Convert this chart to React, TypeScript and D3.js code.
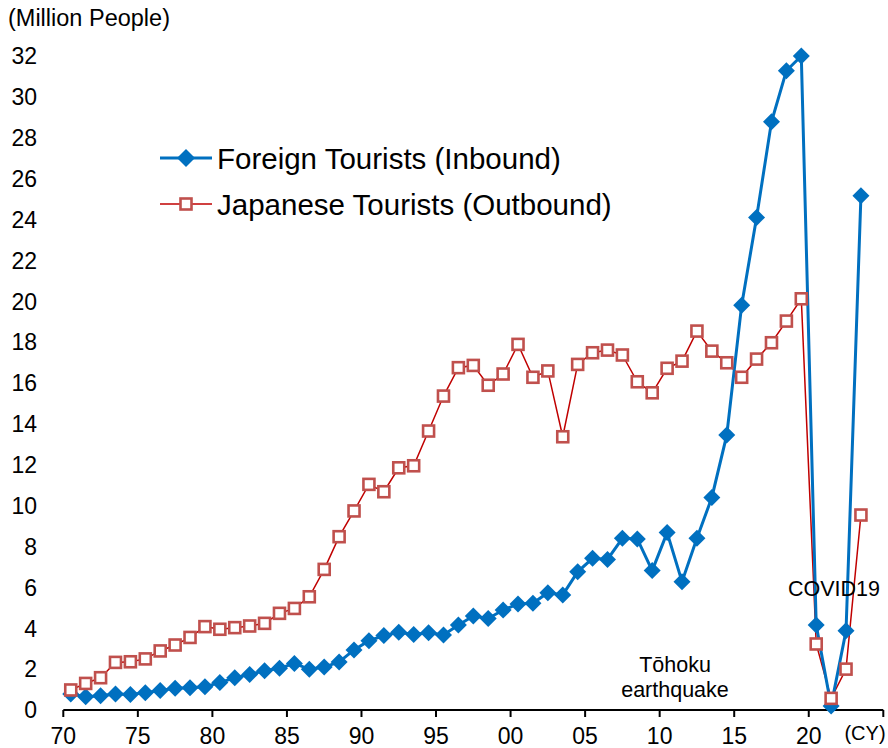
import React from "react";
import * as d3 from "d3";

const years: number[] = Array.from({ length: 54 }, (_, i) => 1970 + i);

const inbound: number[] = [
  0.78, 0.65, 0.70, 0.78, 0.76, 0.85, 0.95, 1.06, 1.09, 1.14,
  1.34, 1.58, 1.74, 1.92, 2.04, 2.28, 1.99, 2.10, 2.35, 2.94,
  3.39, 3.64, 3.80, 3.70, 3.78, 3.67, 4.16, 4.60, 4.48, 4.89,
  5.19, 5.22, 5.74, 5.63, 6.76, 7.42, 7.37, 8.40, 8.37, 6.82,
  8.68, 6.28, 8.40, 10.40, 13.45, 19.81, 24.10, 28.78, 31.28, 32.0,
  4.16, 0.20, 3.88, 25.16,
];

const outbound: number[] = [
  0.98, 1.30, 1.58, 2.33, 2.36, 2.50, 2.89, 3.18, 3.55, 4.08,
  3.95, 4.03, 4.11, 4.24, 4.73, 4.97, 5.54, 6.88, 8.48, 9.74,
  11.04, 10.68, 11.85, 11.95, 13.65, 15.36, 16.75, 16.86, 15.89, 16.44,
  17.89, 16.28, 16.59, 13.37, 16.91, 17.48, 17.61, 17.37, 16.06, 15.52,
  16.72, 17.07, 18.54, 17.56, 16.99, 16.28, 17.17, 17.97, 19.03, 20.12,
  3.23, 0.57, 2.00, 9.54,
];

const yTicks: number[] = [0, 2, 4, 6, 8, 10, 12, 14, 16, 18, 20, 22, 24, 26, 28, 30, 32];
const xTicks: number[] = [1970, 1975, 1980, 1985, 1990, 1995, 2000, 2005, 2010, 2015, 2020, 2025];
const xTickLabels: string[] = ["70", "75", "80", "85", "90", "95", "00", "05", "10", "15", "20", ""];
const seriesNames: string[] = ["Foreign Tourists (Inbound)", "Japanese Tourists (Outbound)"];

const FONT = "'Liberation Sans', Arial, sans-serif";
const BLUE = "#0070C0";
const RED_LINE = "#C00000";
const RED_MARK = "#C0504D";

export default function App() {
  const W = 888;
  const H = 748;
  const x = d3.scaleLinear().domain([1970, 2025]).range([63.3, 883.3]);
  const y = d3.scaleLinear().domain([0, 32]).range([710, 56]);

  const line = d3
    .line<number>()
    .x((_, i) => x(years[i] + 0.5))
    .y((d) => y(d));

  const diamond = (cx: number, cy: number, r: number) =>
    `M${cx},${cy - r}L${cx + r},${cy}L${cx},${cy + r}L${cx - r},${cy}Z`;

  return (
    <svg
      width={W}
      height={H}
      style={{ position: "absolute", left: 0, top: 0, background: "#fff" }}
      fontFamily={FONT}
    >
      <rect x={0} y={0} width={W} height={H} fill="#fff" />
      <text x={8} y={26} fontSize={23.5} fill="#000">(Million People)</text>

      {yTicks.map((t) => (
        <text key={t} x={37} y={y(t)} dy="0.36em" fontSize={23} textAnchor="end" fill="#000">
          {t}
        </text>
      ))}

      <line x1={x(1970)} x2={x(2025)} y1={y(0)} y2={y(0)} stroke="#000" strokeWidth={2} />
      {xTicks.map((t, i) => (
        <g key={t}>
          <line x1={x(t)} x2={x(t)} y1={y(0)} y2={y(0) + 7} stroke="#000" strokeWidth={2} />
          {xTickLabels[i] && (
            <text x={x(t)} y={744} fontSize={23} textAnchor="middle" fill="#000">
              {xTickLabels[i]}
            </text>
          )}
        </g>
      ))}
      <text x={865} y={740} fontSize={20} textAnchor="middle" fill="#000">(CY)</text>

      {/* Outbound */}
      <path d={line(outbound) || ""} fill="none" stroke={RED_LINE} strokeWidth={1.5} />
      {/* Inbound */}
      <path d={line(inbound) || ""} fill="none" stroke={BLUE} strokeWidth={3} />
      {inbound.map((v, i) => (
        <path key={"d" + i} d={diamond(x(years[i] + 0.5), y(v), 8.5)} fill={BLUE} />
      ))}
      {outbound.map((v, i) => (
        <rect
          key={"s" + i}
          x={x(years[i] + 0.5) - 5.5}
          y={y(v) - 5.5}
          width={11}
          height={11}
          fill="#fff"
          stroke={RED_MARK}
          strokeWidth={2.6}
        />
      ))}

      {/* Annotations */}
      <text x={675} y={672} fontSize={21.5} textAnchor="middle" fill="#000">Tōhoku</text>
      <text x={675} y={697} fontSize={21.5} textAnchor="middle" fill="#000">earthquake</text>
      <text x={834} y={596} fontSize={21.5} textAnchor="middle" fill="#000">COVID19</text>

      {/* Legend */}
      <line x1={160} x2={212} y1={158} y2={158} stroke={BLUE} strokeWidth={3} />
      <path d={diamond(186, 158, 9)} fill={BLUE} />
      <text x={217} y={158} dy="0.36em" fontSize={29.5} fill="#000">{seriesNames[0]}</text>
      <line x1={160} x2={212} y1={204} y2={204} stroke={RED_LINE} strokeWidth={1.5} />
      <rect x={180.5} y={198.5} width={11} height={11} fill="#fff" stroke={RED_MARK} strokeWidth={2.6} />
      <text x={217} y={204} dy="0.36em" fontSize={29.5} fill="#000">{seriesNames[1]}</text>
    </svg>
  );
}
